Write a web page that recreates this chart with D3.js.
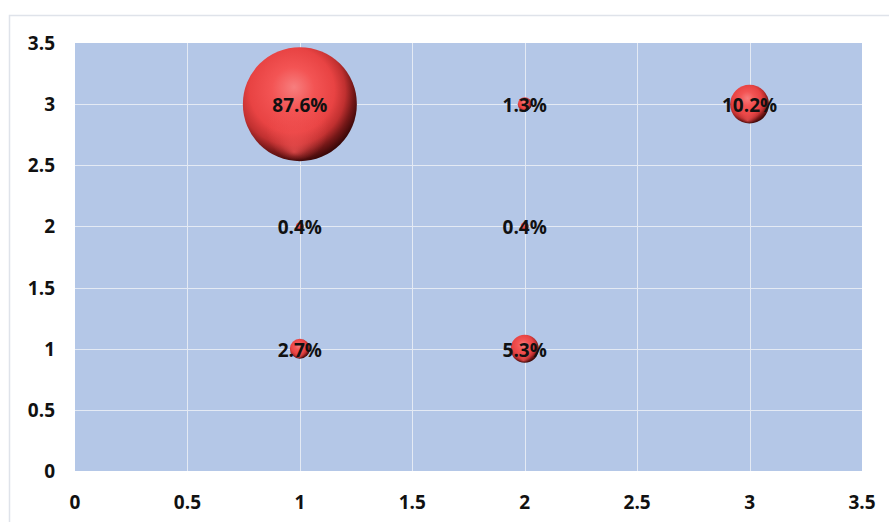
<!DOCTYPE html>
<html><head><meta charset="utf-8">
<script src="https://cdn.jsdelivr.net/npm/d3@7"></script>
<style>body{margin:0;background:#fff}svg{display:block}</style>
</head><body><svg id="c" width="889" height="522"></svg>
<script>
const xValues = [1, 2, 3, 1, 2, 1, 2];
const yValues = [3, 3, 3, 2, 2, 1, 1];
const sizes = [87.6, 1.3, 10.2, 0.4, 0.4, 2.7, 5.3];
const labels = ["87.6%", "1.3%", "10.2%", "0.4%", "0.4%", "2.7%", "5.3%"];
const xTicks = [0, 0.5, 1, 1.5, 2, 2.5, 3, 3.5];
const yTicks = [0, 0.5, 1, 1.5, 2, 2.5, 3, 3.5];

const svg = d3.select("#c");
const L = 75, R = 862, T = 43, B = 471;
const x = d3.scaleLinear().domain([0, 3.5]).range([L, R]);
const y = d3.scaleLinear().domain([0, 3.5]).range([B, T]);
const r = d3.scaleSqrt().domain([0, 87.6]).range([0, 57]);

svg.append("rect").attr("x", 9.5).attr("y", 15.5).attr("width", 900).attr("height", 600)
  .attr("fill", "#fff").attr("stroke", "#dfe3ea").attr("stroke-width", 1.5);

const defs = svg.append("defs");
const g = defs.append("radialGradient").attr("id", "sph")
  .attr("cx", "42%").attr("cy", "40%").attr("r", "62%").attr("fx", "45%").attr("fy", "35%");
[[0, "#f77e7e"], [0.3, "#f35454"], [0.6, "#e84343"], [0.76, "#c03030"], [0.88, "#761818"], [1, "#3a0808"]]
  .forEach(([o, c]) => g.append("stop").attr("offset", o).attr("stop-color", c));
const g2 = defs.append("radialGradient").attr("id", "rim")
  .attr("cx", "50%").attr("cy", "55%").attr("r", "50%").attr("fx", "45%").attr("fy", "92%");
[[0, "rgba(245,85,85,0.7)"], [0.3, "rgba(245,85,85,0.25)"], [0.55, "rgba(245,85,85,0)"], [1, "rgba(245,85,85,0)"]]
  .forEach(([o, c]) => g2.append("stop").attr("offset", o).attr("stop-color", c));

svg.append("rect").attr("x", L).attr("y", T).attr("width", R - L).attr("height", B - T).attr("fill", "#b4c7e7");

svg.append("g").selectAll("line").data(xTicks.slice(1, -1)).join("line")
  .attr("x1", d => Math.round(x(d)) + 0.5).attr("x2", d => Math.round(x(d)) + 0.5)
  .attr("y1", T).attr("y2", B).attr("stroke", "#e4eaf4").attr("stroke-width", 1);
svg.append("g").selectAll("line").data(yTicks.slice(1, -1)).join("line")
  .attr("y1", d => Math.round(y(d)) + 0.5).attr("y2", d => Math.round(y(d)) + 0.5)
  .attr("x1", L).attr("x2", R).attr("stroke", "#e4eaf4").attr("stroke-width", 1);

const font = "'Open Sans', sans-serif";
svg.append("g").selectAll("text").data(xTicks).join("text")
  .attr("x", d => x(d)).attr("y", 502).attr("text-anchor", "middle").attr("dominant-baseline", "central")
  .attr("font-family", font).attr("font-weight", "bold").attr("font-size", 19).attr("fill", "#111")
  .text(d => d);
svg.append("g").selectAll("text").data(yTicks).join("text")
  .attr("x", 55).attr("y", d => y(d)).attr("text-anchor", "end").attr("dominant-baseline", "central")
  .attr("font-family", font).attr("font-weight", "bold").attr("font-size", 19).attr("fill", "#111")
  .text(d => d);

const idx = d3.range(sizes.length);
const bub = svg.append("g");
bub.selectAll("circle.s").data(idx).join("circle").attr("class", "s")
  .attr("cx", i => x(xValues[i])).attr("cy", i => y(yValues[i])).attr("r", i => r(sizes[i]))
  .attr("fill", "url(#sph)");
bub.selectAll("circle.m").data(idx).join("circle").attr("class", "m")
  .attr("cx", i => x(xValues[i])).attr("cy", i => y(yValues[i])).attr("r", i => r(sizes[i]))
  .attr("fill", "url(#rim)");

svg.append("g").selectAll("text").data(idx).join("text")
  .attr("x", i => x(xValues[i])).attr("y", i => y(yValues[i]) + 1)
  .attr("text-anchor", "middle").attr("dominant-baseline", "central")
  .attr("font-family", font).attr("font-weight", "bold").attr("font-size", 19).attr("fill", "#111")
  .text(i => labels[i]);
</script></body></html>
